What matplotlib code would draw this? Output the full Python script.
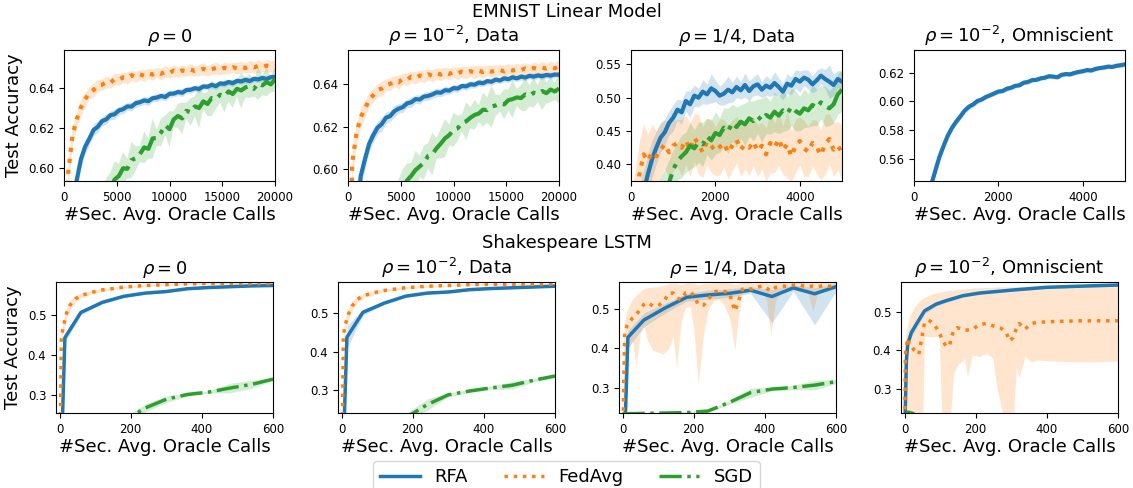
import matplotlib
matplotlib.use("Agg")
import matplotlib.pyplot as plt
import numpy as np

# ---------------- EMNIST (top row) ----------------
emn_x_long = list(range(0, 20001, 400))   # rho=0 and rho=1e-2 Data
emn_x_short = list(range(0, 5001, 100))   # rho=1/4 Data and Omniscient

e0_rfa = [0.45, 0.52, 0.565, 0.594, 0.6045, 0.6108, 0.6148, 0.6192, 0.6208, 0.6236, 0.6245, 0.6266, 0.6271,
          0.6290, 0.6296, 0.6310, 0.6309, 0.6326, 0.6331, 0.6340, 0.6336, 0.6351, 0.6354, 0.6362, 0.6357, 0.6373,
          0.6374, 0.6382, 0.6378, 0.6392, 0.6393, 0.6401, 0.6397, 0.6410, 0.6408, 0.6418, 0.6411, 0.6425, 0.6423,
          0.6432, 0.6426, 0.6438, 0.6435, 0.6443, 0.6437, 0.6448, 0.6445, 0.6452, 0.6447, 0.6456, 0.6458]
e0_rfa_sd = [0.01, 0.008, 0.006, 0.005, 0.004, 0.0035, 0.003, 0.003, 0.0028, 0.0025, 0.0025, 0.0022, 0.0025,
             0.002, 0.0022, 0.002, 0.0022, 0.002, 0.0018, 0.002, 0.0022, 0.0018, 0.002, 0.0018, 0.002, 0.0018,
             0.0016, 0.0018, 0.002, 0.0016, 0.0018, 0.0016, 0.0018, 0.0016, 0.0015, 0.0016, 0.0018, 0.0015, 0.0016,
             0.0015, 0.0016, 0.0015, 0.0014, 0.0016, 0.0015, 0.0014, 0.0016, 0.0015, 0.0014, 0.0015, 0.0014]
e0_fed = [0.52, 0.598, 0.6165, 0.6245, 0.6305, 0.6345, 0.6378, 0.6392, 0.6415, 0.6418, 0.6432, 0.6428, 0.6447,
          0.6443, 0.6455, 0.6451, 0.6466, 0.6458, 0.6470, 0.6463, 0.6476, 0.6469, 0.6480, 0.6473, 0.6484, 0.6478,
          0.6489, 0.6481, 0.6490, 0.6485, 0.6494, 0.6487, 0.6493, 0.6498, 0.6489, 0.6497, 0.6501, 0.6494, 0.6503,
          0.6497, 0.6506, 0.6500, 0.6508, 0.6502, 0.6510, 0.6505, 0.6512, 0.6506, 0.6514, 0.6509, 0.6515]
e0_fed_sd = [0.02, 0.006, 0.005, 0.004, 0.004, 0.0035, 0.003, 0.0035, 0.003, 0.0028, 0.003, 0.0025, 0.003,
             0.0028, 0.0025, 0.003, 0.0025, 0.0028, 0.0025, 0.003, 0.0025, 0.0028, 0.0025, 0.003, 0.0028, 0.0025,
             0.003, 0.0025, 0.0028, 0.0025, 0.003, 0.0025, 0.0028, 0.003, 0.0025, 0.0028, 0.003, 0.0025, 0.003,
             0.0028, 0.0025, 0.003, 0.0028, 0.0025, 0.003, 0.0028, 0.0032, 0.0025, 0.003, 0.0028, 0.003]
e0_sgd = [0.40, 0.44, 0.47, 0.495, 0.515, 0.533, 0.548, 0.560, 0.570, 0.578, 0.585, 0.590, 0.5945, 0.5962,
          0.6001, 0.5998, 0.6042, 0.6051, 0.6072, 0.6105, 0.6098, 0.6150, 0.6152, 0.6180, 0.6215, 0.6196, 0.6245,
          0.6262, 0.6250, 0.6288, 0.6281, 0.6310, 0.6302, 0.6335, 0.6322, 0.6352, 0.6348, 0.6368, 0.6360, 0.6385,
          0.6372, 0.6398, 0.6390, 0.6405, 0.6412, 0.6398, 0.6425, 0.6415, 0.6432, 0.6420, 0.6445]
e0_sgd_sd = [0.01, 0.01, 0.01, 0.01, 0.01, 0.01, 0.01, 0.01, 0.01, 0.01, 0.01, 0.008, 0.009, 0.006, 0.008,
             0.005, 0.009, 0.006, 0.004, 0.008, 0.005, 0.01, 0.004, 0.007, 0.005, 0.009, 0.004, 0.006, 0.008,
             0.004, 0.007, 0.005, 0.01, 0.004, 0.006, 0.009, 0.005, 0.004, 0.008, 0.005, 0.007, 0.004, 0.009,
             0.005, 0.006, 0.004, 0.008, 0.005, 0.007, 0.004, 0.006]

e1_rfa = [0.45, 0.52, 0.575, 0.5965, 0.6045, 0.6118, 0.6160, 0.6195, 0.6212, 0.6242, 0.6250, 0.6273, 0.6285,
          0.6292, 0.6310, 0.6315, 0.6330, 0.6328, 0.6342, 0.6345, 0.6352, 0.6362, 0.6360, 0.6372, 0.6370, 0.6382,
          0.6380, 0.6392, 0.6390, 0.6400, 0.6398, 0.6408, 0.6405, 0.6415, 0.6412, 0.6422, 0.6418, 0.6428, 0.6424,
          0.6433, 0.6428, 0.6436, 0.6432, 0.6440, 0.6436, 0.6442, 0.6438, 0.6444, 0.6441, 0.6446, 0.6445]
e1_rfa_sd = [0.01, 0.008, 0.007, 0.005, 0.0045, 0.004, 0.0035, 0.003, 0.0032, 0.0028, 0.0025, 0.0028, 0.0022,
             0.0025, 0.002, 0.0024, 0.002, 0.0022, 0.0018, 0.0021, 0.0019, 0.002, 0.0018, 0.0021, 0.0017, 0.0019,
             0.0018, 0.0016, 0.0019, 0.0017, 0.0016, 0.0018, 0.0016, 0.0015, 0.0017, 0.0016, 0.0015, 0.0017, 0.0015,
             0.0016, 0.0014, 0.0016, 0.0015, 0.0014, 0.0016, 0.0015, 0.0014, 0.0015, 0.0016, 0.0014, 0.0015]
e1_fed = [0.50, 0.603, 0.6168, 0.6245, 0.6282, 0.6330, 0.6348, 0.6372, 0.6380, 0.6398, 0.6402, 0.6415, 0.6410,
          0.6426, 0.6422, 0.6436, 0.6430, 0.6441, 0.6437, 0.6447, 0.6440, 0.6452, 0.6446, 0.6455, 0.6449, 0.6458,
          0.6452, 0.6460, 0.6455, 0.6462, 0.6456, 0.6464, 0.6458, 0.6466, 0.6460, 0.6463, 0.6468, 0.6461, 0.6470,
          0.6465, 0.6472, 0.6467, 0.6475, 0.6469, 0.6477, 0.6472, 0.6479, 0.6474, 0.6481, 0.6476, 0.6484]
e1_fed_sd = [0.02, 0.007, 0.005, 0.0045, 0.004, 0.0035, 0.0032, 0.003, 0.0035, 0.0028, 0.003, 0.0026, 0.0032,
             0.0027, 0.003, 0.0025, 0.0029, 0.0026, 0.003, 0.0025, 0.0028, 0.0025, 0.003, 0.0026, 0.0028, 0.0025,
             0.003, 0.0026, 0.0028, 0.0025, 0.0031, 0.0026, 0.0028, 0.0025, 0.003, 0.0027, 0.0025, 0.003, 0.0026,
             0.0028, 0.0025, 0.003, 0.0027, 0.0025, 0.0029, 0.0026, 0.003, 0.0025, 0.0028, 0.0026, 0.003]
e1_sgd = [0.38, 0.41, 0.44, 0.465, 0.485, 0.505, 0.522, 0.536, 0.549, 0.560, 0.570, 0.578, 0.585, 0.591,
          0.5946, 0.5968, 0.5995, 0.6012, 0.6030, 0.6062, 0.6070, 0.6098, 0.6120, 0.6145, 0.6160, 0.6185, 0.6192,
          0.6218, 0.6225, 0.6242, 0.6255, 0.6262, 0.6280, 0.6278, 0.6295, 0.6300, 0.6310, 0.6305, 0.6325, 0.6330,
          0.6338, 0.6335, 0.6352, 0.6345, 0.6360, 0.6355, 0.6368, 0.6358, 0.6375, 0.6366, 0.6380]
e1_sgd_sd = [0.01, 0.01, 0.01, 0.01, 0.01, 0.01, 0.01, 0.01, 0.01, 0.01, 0.01, 0.01, 0.01, 0.009, 0.008,
             0.006, 0.009, 0.005, 0.008, 0.006, 0.01, 0.005, 0.007, 0.009, 0.005, 0.008, 0.006, 0.004, 0.009,
             0.005, 0.007, 0.004, 0.008, 0.006, 0.01, 0.005, 0.004, 0.007, 0.005, 0.009, 0.004, 0.006, 0.008,
             0.005, 0.007, 0.004, 0.009, 0.005, 0.006, 0.004, 0.007]

e2_rfa = [0.30, 0.32, 0.34, 0.36, 0.385, 0.408, 0.425, 0.440, 0.448, 0.462, 0.470, 0.482, 0.478, 0.495, 0.490,
          0.503, 0.500, 0.509, 0.505, 0.514, 0.510, 0.503, 0.506, 0.512, 0.508, 0.516, 0.511, 0.519, 0.510, 0.517,
          0.520, 0.512, 0.518, 0.515, 0.522, 0.516, 0.509, 0.521, 0.518, 0.528, 0.524, 0.530, 0.527, 0.520, 0.526,
          0.533, 0.528, 0.524, 0.519, 0.528, 0.524]
e2_rfa_sd = [0.03, 0.03, 0.03, 0.03, 0.03, 0.028, 0.025, 0.022, 0.02, 0.018, 0.02, 0.016, 0.018, 0.015, 0.02,
             0.016, 0.014, 0.018, 0.015, 0.022, 0.016, 0.014, 0.017, 0.02, 0.015, 0.016, 0.013, 0.018, 0.015,
             0.014, 0.016, 0.012, 0.015, 0.013, 0.017, 0.014, 0.012, 0.015, 0.013, 0.014, 0.016, 0.012, 0.014,
             0.013, 0.015, 0.012, 0.014, 0.025, 0.016, 0.013, 0.015]
e2_fed = [0.30, 0.33, 0.385, 0.415, 0.405, 0.418, 0.412, 0.422, 0.430, 0.418, 0.428, 0.432, 0.425, 0.436, 0.422,
          0.440, 0.430, 0.418, 0.434, 0.428, 0.420, 0.426, 0.432, 0.418, 0.428, 0.437, 0.422, 0.430, 0.425, 0.434,
          0.420, 0.428, 0.415, 0.432, 0.425, 0.438, 0.421, 0.430, 0.412, 0.428, 0.435, 0.424, 0.419, 0.432, 0.426,
          0.414, 0.430, 0.438, 0.422, 0.428, 0.418]
e2_fed_sd = [0.06, 0.06, 0.05, 0.045, 0.04, 0.042, 0.038, 0.04, 0.036, 0.04, 0.038, 0.035, 0.042, 0.037, 0.04,
             0.036, 0.045, 0.038, 0.035, 0.04, 0.037, 0.042, 0.036, 0.04, 0.038, 0.035, 0.04, 0.037, 0.042, 0.036,
             0.039, 0.035, 0.04, 0.045, 0.037, 0.04, 0.036, 0.05, 0.038, 0.04, 0.036, 0.042, 0.038, 0.035, 0.04,
             0.037, 0.045, 0.038, 0.04, 0.036, 0.042]
e2_sgd = [0.30, 0.305, 0.31, 0.318, 0.325, 0.333, 0.342, 0.352, 0.362, 0.372, 0.392, 0.405, 0.412, 0.418, 0.428,
          0.424, 0.433, 0.430, 0.442, 0.436, 0.447, 0.444, 0.455, 0.450, 0.462, 0.456, 0.464, 0.460, 0.469, 0.465,
          0.472, 0.466, 0.474, 0.470, 0.479, 0.473, 0.481, 0.476, 0.486, 0.480, 0.476, 0.484, 0.481, 0.489, 0.485,
          0.493, 0.487, 0.484, 0.490, 0.505, 0.512]
e2_sgd_sd = [0.03, 0.03, 0.03, 0.03, 0.03, 0.03, 0.03, 0.03, 0.03, 0.035, 0.03, 0.028, 0.032, 0.03, 0.035,
             0.028, 0.03, 0.033, 0.027, 0.03, 0.032, 0.026, 0.03, 0.034, 0.028, 0.03, 0.025, 0.032, 0.027, 0.03,
             0.026, 0.033, 0.028, 0.025, 0.03, 0.027, 0.032, 0.025, 0.028, 0.03, 0.026, 0.029, 0.025, 0.031,
             0.027, 0.025, 0.03, 0.026, 0.028, 0.03, 0.032]

e3_rfa = [0.47, 0.49, 0.51, 0.527, 0.541, 0.551, 0.561, 0.5688, 0.5760, 0.5815, 0.5858, 0.5895, 0.5935, 0.5962,
          0.5978, 0.6002, 0.6012, 0.6030, 0.6042, 0.6055, 0.6068, 0.6072, 0.6088, 0.6095, 0.6108, 0.6112, 0.6130,
          0.6135, 0.6148, 0.6150, 0.6160, 0.6165, 0.6175, 0.6172, 0.6168, 0.6185, 0.6190, 0.6188, 0.6198, 0.6205,
          0.6210, 0.6218, 0.6215, 0.6226, 0.6232, 0.6236, 0.6242, 0.6240, 0.6248, 0.6252, 0.6258]
e3_rfa_sd = [0.003, 0.003, 0.003, 0.003, 0.003, 0.003, 0.0028, 0.0025, 0.0025, 0.0022, 0.002, 0.002, 0.0018,
             0.0022, 0.0018, 0.002, 0.0016, 0.0018, 0.0015, 0.0018, 0.0016, 0.0015, 0.0018, 0.0015, 0.0016, 0.0014,
             0.0016, 0.0015, 0.0014, 0.0016, 0.0015, 0.0014, 0.0015, 0.0016, 0.0014, 0.0015, 0.0014, 0.0016, 0.0015,
             0.0014, 0.0015, 0.0016, 0.0014, 0.0015, 0.0014, 0.0016, 0.0015, 0.0014, 0.0015, 0.0016, 0.0015]

# ---------------- Shakespeare (bottom row) ----------------
sh_x = [0, 15, 60, 120, 180, 240, 300, 360, 420, 480, 540, 600]
sh_fed_x = [0, 5, 10, 20, 30, 45, 60, 90, 120, 180, 240, 300, 360, 420, 480, 540, 600]
sh_sgd_x = [0, 60, 120, 180, 240, 300, 360, 420, 480, 540, 600]

s0_rfa = [0.0, 0.443, 0.506, 0.531, 0.546, 0.554, 0.558, 0.565, 0.568, 0.570, 0.572, 0.573]
s0_rfa_sd = [0.0, 0.012, 0.006, 0.004, 0.003, 0.003, 0.003, 0.002, 0.002, 0.002, 0.002, 0.002]
s0_fed = [0.0, 0.44, 0.47, 0.505, 0.525, 0.540, 0.548, 0.556, 0.562, 0.569, 0.573, 0.575, 0.577, 0.578, 0.578,
          0.578, 0.578]
s0_fed_sd = [0.0, 0.01, 0.015, 0.015, 0.012, 0.008, 0.006, 0.004, 0.004, 0.003, 0.003, 0.002, 0.002, 0.002,
             0.002, 0.002, 0.002]
s0_sgd = [0.10, 0.16, 0.20, 0.235, 0.268, 0.290, 0.302, 0.308, 0.318, 0.327, 0.340]
s0_sgd_sd = [0.005, 0.005, 0.005, 0.008, 0.01, 0.008, 0.004, 0.003, 0.012, 0.01, 0.003]

s1_rfa = [0.0, 0.438, 0.503, 0.527, 0.545, 0.553, 0.556, 0.562, 0.565, 0.567, 0.569, 0.571]
s1_rfa_sd = [0.0, 0.03, 0.008, 0.004, 0.003, 0.003, 0.003, 0.002, 0.002, 0.002, 0.002, 0.002]
s1_fed = [0.0, 0.44, 0.47, 0.50, 0.52, 0.537, 0.546, 0.554, 0.560, 0.567, 0.571, 0.573, 0.575, 0.576, 0.576,
          0.576, 0.577]
s1_fed_sd = [0.0, 0.012, 0.015, 0.014, 0.012, 0.008, 0.006, 0.005, 0.004, 0.003, 0.003, 0.002, 0.002, 0.002,
             0.002, 0.002, 0.002]
s1_sgd = [0.10, 0.15, 0.19, 0.228, 0.262, 0.288, 0.298, 0.306, 0.313, 0.326, 0.337]
s1_sgd_sd = [0.005, 0.005, 0.005, 0.01, 0.015, 0.005, 0.004, 0.004, 0.01, 0.004, 0.004]

s2_rfa = [0.0, 0.428, 0.472, 0.503, 0.530, 0.536, 0.540, 0.548, 0.532, 0.554, 0.539, 0.557]
s2_rfa_lo = [0.0, 0.40, 0.455, 0.49, 0.52, 0.525, 0.53, 0.54, 0.465, 0.545, 0.46, 0.545]
s2_rfa_hi = [0.0, 0.445, 0.49, 0.515, 0.54, 0.548, 0.552, 0.557, 0.55, 0.562, 0.555, 0.566]
s2_fed_x = [0, 3, 6, 14, 28, 38, 50, 60, 70, 85, 100, 115, 130, 142, 152, 165, 178, 190, 200, 213, 228, 242,
            256, 270, 285, 300, 308, 316, 324, 337, 352, 365, 380, 393, 405, 417, 430, 450, 465, 480, 500, 520,
            535, 550, 565, 580, 600]
s2_fed = [0.10, 0.30, 0.44, 0.462, 0.477, 0.485, 0.50, 0.512, 0.517, 0.508, 0.509, 0.518, 0.540, 0.541, 0.528,
          0.524, 0.542, 0.544, 0.535, 0.511, 0.510, 0.526, 0.544, 0.546, 0.545, 0.542, 0.517, 0.495, 0.515, 0.551,
          0.552, 0.551, 0.556, 0.559, 0.553, 0.546, 0.555, 0.559, 0.557, 0.561, 0.561, 0.556, 0.559, 0.557, 0.560,
          0.558, 0.561]
s2_fed_lo = [0.0, 0.10, 0.30, 0.40, 0.42, 0.353, 0.44, 0.455, 0.42, 0.395, 0.39, 0.385, 0.40, 0.43, 0.353, 0.47,
             0.505, 0.507, 0.45, 0.31, 0.44, 0.50, 0.52, 0.525, 0.51, 0.48, 0.44, 0.395, 0.47, 0.54, 0.545, 0.545,
             0.545, 0.545, 0.52, 0.434, 0.52, 0.55, 0.55, 0.55, 0.553, 0.545, 0.494, 0.545, 0.55, 0.55, 0.55]
s2_fed_hi = [0.2, 0.42, 0.47, 0.50, 0.525, 0.535, 0.545, 0.552, 0.555, 0.556, 0.557, 0.56, 0.565, 0.566, 0.565,
             0.562, 0.566, 0.567, 0.566, 0.562, 0.565, 0.565, 0.566, 0.567, 0.567, 0.566, 0.565, 0.563, 0.565,
             0.568, 0.568, 0.566, 0.567, 0.568, 0.566, 0.566, 0.568, 0.568, 0.567, 0.568, 0.568, 0.567, 0.567,
             0.567, 0.568, 0.568, 0.568]
s2_sgd = [0.233, 0.234, 0.235, 0.236, 0.240, 0.262, 0.287, 0.296, 0.300, 0.306, 0.315]
s2_sgd_sd = [0.002, 0.002, 0.002, 0.002, 0.003, 0.005, 0.012, 0.004, 0.006, 0.012, 0.005]

s3_rfa_x = [0, 5, 9, 19, 33, 56, 89, 117, 164, 211, 305, 398, 492, 600]
s3_rfa = [0.15, 0.373, 0.417, 0.447, 0.469, 0.504, 0.522, 0.531, 0.544, 0.551, 0.559, 0.566, 0.569, 0.572]
s3_rfa_sd = [0.01, 0.02, 0.015, 0.012, 0.01, 0.008, 0.006, 0.005, 0.004, 0.004, 0.003, 0.003, 0.003, 0.003]
s3_fed_x = [0, 2, 3, 7, 9, 14, 20, 28, 40, 44, 52, 56, 68, 84, 97, 106, 117, 127, 131, 138, 148, 169, 177, 190,
            211, 230, 248, 260, 272, 286, 295, 305, 314, 322, 339, 356, 375, 417, 492, 600]
s3_fed = [0.10, 0.373, 0.40, 0.421, 0.432, 0.412, 0.41, 0.40, 0.39, 0.41, 0.452, 0.472, 0.48, 0.468, 0.448,
          0.429, 0.41, 0.415, 0.432, 0.452, 0.46, 0.453, 0.454, 0.455, 0.468, 0.471, 0.465, 0.461, 0.458, 0.447,
          0.425, 0.434, 0.456, 0.471, 0.456, 0.471, 0.474, 0.476, 0.478, 0.478]
s3_fed_lo = [0.0, 0.10, 0.15, 0.18, 0.2, 0.2, 0.2, 0.2, 0.2, 0.2, 0.25, 0.437, 0.437, 0.437, 0.437, 0.2, 0.15,
             0.2, 0.25, 0.34, 0.36, 0.379, 0.331, 0.388, 0.384, 0.393, 0.38, 0.30, 0.25, 0.20, 0.15, 0.20, 0.357,
             0.33, 0.385, 0.37, 0.375, 0.372, 0.37, 0.372]
s3_fed_hi = [0.25, 0.42, 0.44, 0.46, 0.47, 0.49, 0.50, 0.515, 0.528, 0.532, 0.538, 0.540, 0.545, 0.55, 0.553,
             0.555, 0.557, 0.558, 0.558, 0.559, 0.56, 0.562, 0.563, 0.564, 0.565, 0.566, 0.566, 0.567, 0.567, 0.567,
             0.567, 0.568, 0.568, 0.568, 0.568, 0.569, 0.569, 0.570, 0.570, 0.570]
s3_sgd_x = [0, 5, 10, 60, 120, 240, 360, 480, 600]
s3_sgd = [0.10, 0.20, 0.238, 0.225, 0.22, 0.222, 0.226, 0.228, 0.230]

# ---------------- labels / ticks ----------------
titles = [r"$\rho=0$", r"$\rho=10^{-2}$, Data", r"$\rho=1/4$, Data", r"$\rho=10^{-2}$, Omniscient"]
methods = ["RFA", "FedAvg", "SGD"]
emn_xlim = [(0, 20000), (0, 20000), (0, 5000), (0, 5000)]
emn_ylim = [(0.5937, 0.6592), (0.5943, 0.6562), (0.375, 0.5715), (0.5444, 0.6358)]
emn_xticks = [[0, 5000, 10000, 15000, 20000], [0, 5000, 10000, 15000, 20000], [0, 2000, 4000], [0, 2000, 4000]]
emn_yticks = [[0.60, 0.62, 0.64], [0.60, 0.62, 0.64], [0.40, 0.45, 0.50, 0.55], [0.56, 0.58, 0.60, 0.62]]
sh_ylim = [(0.2558, 0.5817), (0.2406, 0.582), (0.235, 0.569), (0.2357, 0.580)]
sh_xticks = [0, 200, 400, 600]
sh_yticks = [0.3, 0.4, 0.5]

COLORS = {"RFA": "#1f77b4", "FedAvg": "#ff7f0e", "SGD": "#2ca02c"}
STYLES = {"RFA": "-", "FedAvg": ":", "SGD": "-."}


def draw(ax, method, x, y, lo, hi, lw=2.5):
    c = COLORS[method]
    ax.fill_between(x, lo, hi, color=c, alpha=0.2, linewidth=0)
    return ax.plot(x, y, STYLES[method], color=c, lw=lw, label=method)[0]


def with_sd(ax, method, x, y, sd, lw=2.5):
    y = np.asarray(y)
    sd = np.asarray(sd)
    return draw(ax, method, x, y, y - sd, y + sd, lw)


fig = plt.figure(figsize=(11.33, 4.88), dpi=100)

top_left = [64, 348, 631, 914]
bot_left = [56, 338, 619, 901]
W, H = 1133.0, 488.0

top_axes = [fig.add_axes([l / W, 1 - 181 / H, 211 / W, 131 / H]) for l in top_left]
bot_axes = [fig.add_axes([l / W, 1 - 413 / H, 217 / W, 131 / H]) for l in bot_left]

# EMNIST panels (thicker, noisy curves)
TOP_LW = 3
with_sd(top_axes[0], "RFA", emn_x_long, e0_rfa, e0_rfa_sd, TOP_LW)
with_sd(top_axes[0], "FedAvg", emn_x_long, e0_fed, e0_fed_sd, TOP_LW)
with_sd(top_axes[0], "SGD", emn_x_long, e0_sgd, e0_sgd_sd, TOP_LW)

with_sd(top_axes[1], "RFA", emn_x_long, e1_rfa, e1_rfa_sd, TOP_LW)
with_sd(top_axes[1], "FedAvg", emn_x_long, e1_fed, e1_fed_sd, TOP_LW)
with_sd(top_axes[1], "SGD", emn_x_long, e1_sgd, e1_sgd_sd, TOP_LW)

with_sd(top_axes[2], "RFA", emn_x_short, e2_rfa, e2_rfa_sd, TOP_LW)
with_sd(top_axes[2], "FedAvg", emn_x_short, e2_fed, e2_fed_sd, TOP_LW)
with_sd(top_axes[2], "SGD", emn_x_short, e2_sgd, e2_sgd_sd, TOP_LW)

with_sd(top_axes[3], "RFA", emn_x_short, e3_rfa, e3_rfa_sd, TOP_LW)

# Shakespeare panels
h_rfa = with_sd(bot_axes[0], "RFA", sh_x, s0_rfa, s0_rfa_sd)
h_fed = with_sd(bot_axes[0], "FedAvg", sh_fed_x, s0_fed, s0_fed_sd)
h_sgd = with_sd(bot_axes[0], "SGD", sh_sgd_x, s0_sgd, s0_sgd_sd)

with_sd(bot_axes[1], "RFA", sh_x, s1_rfa, s1_rfa_sd)
with_sd(bot_axes[1], "FedAvg", sh_fed_x, s1_fed, s1_fed_sd)
with_sd(bot_axes[1], "SGD", sh_sgd_x, s1_sgd, s1_sgd_sd)

draw(bot_axes[2], "RFA", sh_x, s2_rfa, s2_rfa_lo, s2_rfa_hi)
draw(bot_axes[2], "FedAvg", s2_fed_x, s2_fed, s2_fed_lo, s2_fed_hi)
with_sd(bot_axes[2], "SGD", sh_sgd_x, s2_sgd, s2_sgd_sd)

with_sd(bot_axes[3], "RFA", s3_rfa_x, s3_rfa, s3_rfa_sd)
draw(bot_axes[3], "FedAvg", s3_fed_x, s3_fed, s3_fed_lo, s3_fed_hi)
bot_axes[3].plot(s3_sgd_x, s3_sgd, STYLES["SGD"], color=COLORS["SGD"], lw=2.5)

for i, ax in enumerate(top_axes):
    ax.set_xlim(*emn_xlim[i])
    ax.set_ylim(*emn_ylim[i])
    ax.set_xticks(emn_xticks[i])
    ax.set_yticks(emn_yticks[i])

for i, ax in enumerate(bot_axes):
    ax.set_xlim(-10, 600)
    ax.set_ylim(*sh_ylim[i])
    ax.set_xticks(sh_xticks)
    ax.set_yticks(sh_yticks)

for i, ax in enumerate(top_axes + bot_axes):
    ax.set_title(titles[i % 4], fontsize=13)
    ax.set_xlabel("#Sec. Avg. Oracle Calls", fontsize=13, labelpad=2)
    ax.tick_params(labelsize=8.5)

top_axes[0].set_ylabel("Test Accuracy", fontsize=13)
bot_axes[0].set_ylabel("Test Accuracy", fontsize=13)

fig.text(0.5, 1 - 12 / H, "EMNIST Linear Model", ha="center", va="center", fontsize=13)
fig.text(0.5, 1 - 243 / H, "Shakespeare LSTM", ha="center", va="center", fontsize=13)

fig.legend([h_rfa, h_fed, h_sgd], methods, loc="upper center", bbox_to_anchor=(0.5, 1 - 452 / H),
           ncol=3, fontsize=13, handlelength=2.2)

fig.savefig("out.png", dpi=100)
